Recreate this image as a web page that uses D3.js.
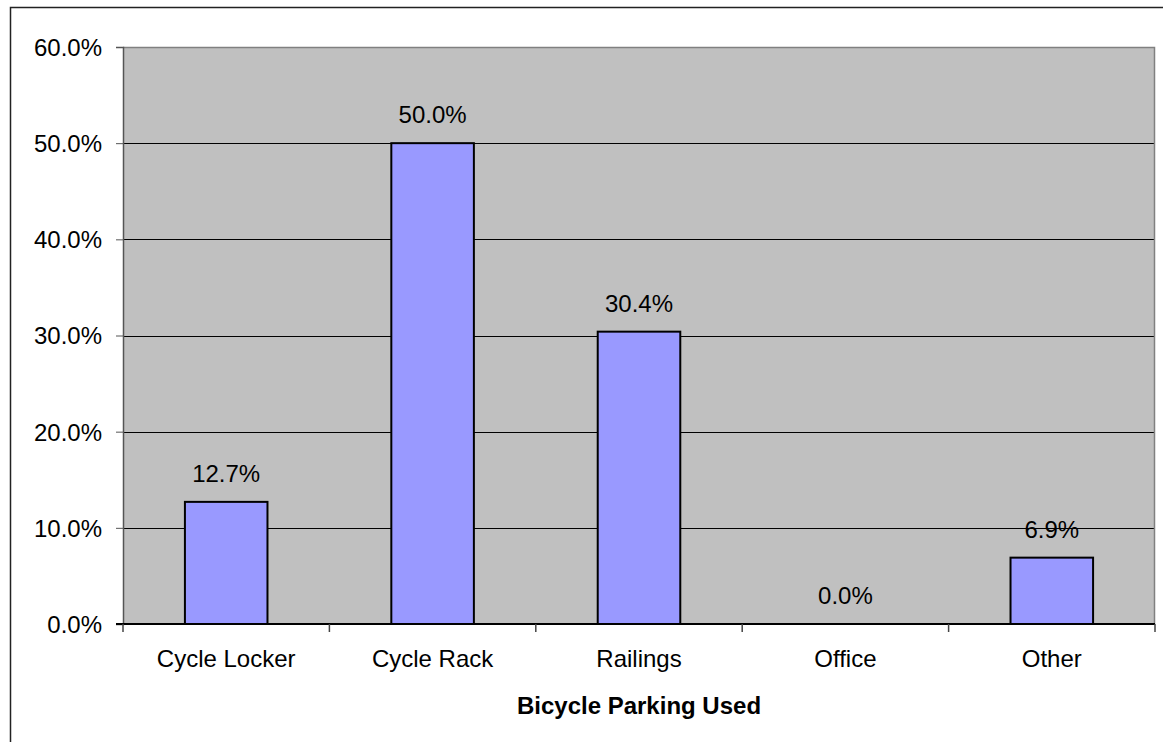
<!DOCTYPE html>
<html>
<head>
<meta charset="utf-8">
<script src="https://cdn.jsdelivr.net/npm/d3@7"></script>
<style>
  html, body { margin: 0; padding: 0; background: #fff; }
  svg { display: block; font-family: Arial, "Liberation Sans", sans-serif; }
</style>
</head>
<body>
<svg id="chart" width="1163" height="742"></svg>
<script>
// chart data
const categories = ['Cycle Locker', 'Cycle Rack', 'Railings', 'Office', 'Other']
const values = [12.7, 50.0, 30.4, 0.0, 6.9]
const yTicks = [0, 10, 20, 30, 40, 50, 60]
const xTitle = 'Bicycle Parking Used'

const width = 1163
const height = 742
const plot = { left: 123, top: 47, right: 1155, bottom: 624 }

const svg = d3.select('#chart')

// outer chart border (runs off the right and bottom of the picture)
svg.append('rect')
  .attr('x', 10.5).attr('y', 7.5)
  .attr('width', width + 20).attr('height', height + 20)
  .attr('fill', '#fff')
  .attr('stroke', '#222')
  .attr('stroke-width', 1.5)

const x = d3.scaleBand()
  .domain(categories)
  .range([plot.left, plot.right])
  .paddingInner(0)
  .paddingOuter(0)

const y = d3.scaleLinear()
  .domain([0, 60])
  .range([plot.bottom, plot.top])

// plot area background
svg.append('rect')
  .attr('x', plot.left).attr('y', plot.top)
  .attr('width', plot.right - plot.left).attr('height', plot.bottom - plot.top)
  .attr('fill', '#c0c0c0')

// gridlines
svg.append('g')
  .selectAll('line')
  .data(yTicks.filter(d => d > 0 && d < 60))
  .join('line')
  .attr('x1', plot.left).attr('x2', plot.right)
  .attr('y1', d => Math.round(y(d)) + 0.5).attr('y2', d => Math.round(y(d)) + 0.5)
  .attr('stroke', '#000')
  .attr('stroke-width', 1)

// top and right border of the plot area
svg.append('path')
  .attr('d', `M${plot.left},${plot.top + 0.5}H${plot.right - 0.5}V${plot.bottom}`)
  .attr('fill', 'none')
  .attr('stroke', '#808080')
  .attr('stroke-width', 1.5)

// bars: Excel style gap width 150%
const barW = x.bandwidth() / 2.5
svg.append('g')
  .selectAll('rect')
  .data(values)
  .join('rect')
  .attr('x', (d, i) => x(categories[i]) + (x.bandwidth() - barW) / 2)
  .attr('y', d => y(d))
  .attr('width', barW)
  .attr('height', d => y(0) - y(d))
  .attr('fill', '#9999ff')
  .attr('stroke', '#000')
  .attr('stroke-width', d => d > 0 ? 2 : 0)

// value labels
svg.append('g')
  .selectAll('text')
  .data(values)
  .join('text')
  .attr('x', (d, i) => x(categories[i]) + x.bandwidth() / 2)
  .attr('y', d => y(d) - 20)
  .attr('text-anchor', 'middle')
  .style('font-size', '24px')
  .style('fill', '#000')
  .text(d => d.toFixed(1) + '%')

// y axis
const yAxis = d3.axisLeft(y)
  .tickValues(yTicks)
  .tickSize(7)
  .tickPadding(14)
  .tickFormat(d => d.toFixed(1) + '%')

const gy = svg.append('g')
  .attr('transform', `translate(${plot.left},0)`)
  .call(yAxis)
gy.select('.domain').attr('stroke', '#555').attr('stroke-width', 1.5)
gy.selectAll('.tick line').attr('stroke', '#555')
gy.selectAll('.tick text')
  .style('font-size', '24px')
  .style('font-family', 'Arial, "Liberation Sans", sans-serif')
  .attr('fill', '#000')
  .attr('dy', '0.35em')

// x axis: ticks sit on category boundaries
const gx = svg.append('g')
  .attr('transform', `translate(0,${plot.bottom})`)
gx.append('line')
  .attr('x1', plot.left - 7).attr('x2', plot.right)
  .attr('y1', 0).attr('y2', 0)
  .attr('stroke', '#000').attr('stroke-width', 2)
gx.selectAll('line.tick')
  .data(categories.map(c => x(c)).concat([plot.right]))
  .join('line')
  .attr('class', 'tick')
  .attr('x1', d => d).attr('x2', d => d)
  .attr('y1', 0).attr('y2', 8)
  .attr('stroke', '#444').attr('stroke-width', 1.5)
gx.selectAll('text')
  .data(categories)
  .join('text')
  .attr('x', d => x(d) + x.bandwidth() / 2)
  .attr('y', 43)
  .attr('text-anchor', 'middle')
  .style('font-size', '24px')
  .style('fill', '#000')
  .text(d => d)

// x axis title
svg.append('text')
  .attr('x', (plot.left + plot.right) / 2)
  .attr('y', 714)
  .attr('text-anchor', 'middle')
  .style('font-size', '24px')
  .style('font-weight', 'bold')
  .style('fill', '#000')
  .text(xTitle)
</script>
</body>
</html>
